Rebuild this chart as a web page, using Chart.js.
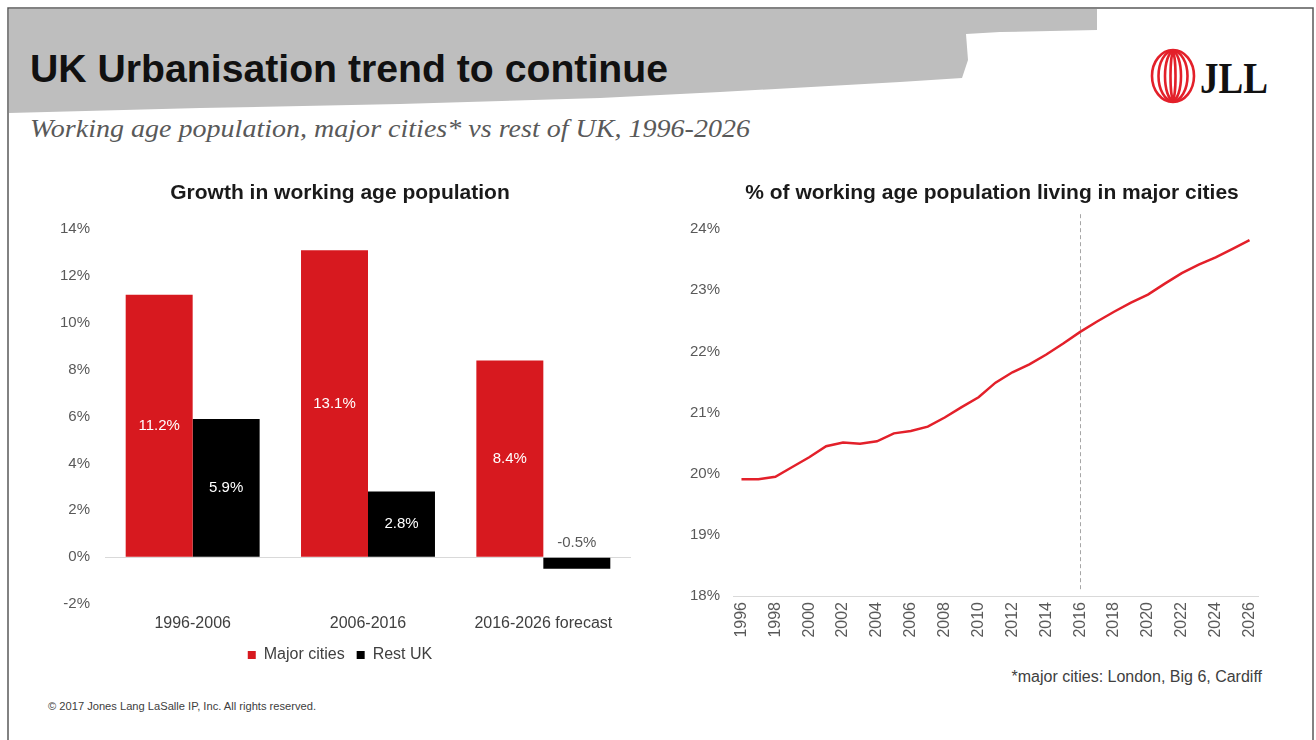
<!DOCTYPE html>
<html>
<head>
<meta charset="utf-8">
<title>UK Urbanisation trend to continue</title>
<script src="https://cdn.jsdelivr.net/npm/chart.js@4.4.1/dist/chart.umd.min.js"></script>
<style>
  html, body { margin: 0; padding: 0; background: #fff; }
  body { width: 1316px; height: 740px; position: relative; overflow: hidden; }
  #deco { position: absolute; left: 0; top: 0; }
  canvas { position: absolute; }
  #growthChart { left: 49px; top: 180px; }
  #shareChart { left: 680px; top: 180px; }
</style>
</head>
<body>
<svg id="deco" width="1316" height="740" xmlns="http://www.w3.org/2000/svg">
  <!-- grey brush band behind the title -->
  <polygon fill="#bebebe" points="9,9 1097,9 1097,30 1000,32 966,34 968,60 962,78 900,82 720,92 600,98 400,104 200,108 9,113"/>
  <!-- slide frame -->
  <path d="M8,740 L8,8 L1313,8 L1313,740" fill="none" stroke="#595959" stroke-width="1.5"/>
  <text x="30" y="82" font-family="Liberation Sans, Arial, sans-serif" font-weight="bold" font-size="38" fill="#111" textLength="638" lengthAdjust="spacingAndGlyphs">UK Urbanisation trend to continue</text>
  <text x="30" y="137" font-family="Liberation Serif, Times New Roman, serif" font-style="italic" font-size="26" fill="#595959" textLength="720" lengthAdjust="spacingAndGlyphs">Working age population, major cities* vs rest of UK, 1996-2026</text>
  <!-- JLL logo -->
  <g fill="none" stroke="#e3202a" stroke-width="2.6">
    <ellipse cx="1173" cy="76" rx="21" ry="26"/>
    <ellipse cx="1173" cy="76" rx="14.5" ry="25"/>
    <ellipse cx="1173" cy="76" rx="8" ry="24"/>
    <ellipse cx="1173" cy="76" rx="2.5" ry="23"/>
  </g>
  <text x="1200" y="93" font-family="Liberation Serif, Times New Roman, serif" font-weight="bold" font-size="44" fill="#111" textLength="68" lengthAdjust="spacingAndGlyphs">JLL</text>
  <text x="1262" y="682" text-anchor="end" font-family="Liberation Sans, Arial, sans-serif" font-size="16" fill="#404040">*major cities: London, Big 6, Cardiff</text>
  <text x="48" y="710" font-family="Liberation Sans, Arial, sans-serif" font-size="10" fill="#404040" textLength="268" lengthAdjust="spacingAndGlyphs">© 2017 Jones Lang LaSalle IP, Inc. All rights reserved.</text>
</svg>

<canvas id="growthChart" width="582" height="493"></canvas>
<canvas id="shareChart" width="624" height="470"></canvas>

<script>
// growth by decade
const periods = ['1996-2006', '2006-2016', '2016-2026 forecast'];
const majorCities = [11.2, 13.1, 8.4];
const restUK = [5.9, 2.8, -0.5];

// share of working age population in major cities
const years = ['1996', '1997', '1998', '1999', '2000', '2001', '2002', '2003', '2004', '2005',
  '2006', '2007', '2008', '2009', '2010', '2011', '2012', '2013', '2014', '2015',
  '2016', '2017', '2018', '2019', '2020', '2021', '2022', '2023', '2024', '2025', '2026'];
const cityShare = [19.91, 19.91, 19.95, 20.11, 20.27, 20.45, 20.51, 20.49, 20.53, 20.66,
  20.70, 20.77, 20.92, 21.09, 21.25, 21.49, 21.66, 21.79, 21.95, 22.13,
  22.32, 22.49, 22.65, 22.80, 22.93, 23.11, 23.28, 23.42, 23.54, 23.68, 23.82];
const forecastStart = '2016';

const RED = '#d7191f';
const TICK = '#595959';

Chart.defaults.font.family = '"Liberation Sans", Arial, sans-serif';
Chart.defaults.animation = false;

// value labels inside the bars (negative one sits above the zero line)
const barLabels = {
  id: 'barLabels',
  afterDatasetsDraw(chart) {
    const ctx = chart.ctx;
    ctx.save();
    ctx.font = '15px "Liberation Sans", Arial, sans-serif';
    ctx.textAlign = 'center';
    ctx.textBaseline = 'middle';
    chart.data.datasets.forEach((ds, di) => {
      chart.getDatasetMeta(di).data.forEach((bar, i) => {
        const v = ds.data[i];
        const txt = v.toFixed(1) + '%';
        if (v >= 0) {
          ctx.fillStyle = '#fff';
          ctx.fillText(txt, bar.x, (bar.y + bar.base) / 2);
        } else {
          ctx.fillStyle = TICK;
          ctx.fillText(txt, bar.x, bar.base - 15);
        }
      });
    });
    ctx.restore();
  }
};

// dashed marker where the forecast starts
const forecastLine = {
  id: 'forecastLine',
  beforeDatasetsDraw(chart) {
    const x = chart.scales.x.getPixelForValue(years.indexOf(forecastStart));
    const area = chart.chartArea;
    const ctx = chart.ctx;
    ctx.save();
    ctx.strokeStyle = '#a6a6a6';
    ctx.lineWidth = 1;
    ctx.setLineDash([4, 3]);
    ctx.beginPath();
    ctx.moveTo(Math.round(x) + 0.5, area.top - 15);
    ctx.lineTo(Math.round(x) + 0.5, area.bottom - 4);
    ctx.stroke();
    ctx.restore();
  }
};

new Chart(document.getElementById('growthChart'), {
  type: 'bar',
  data: {
    labels: periods,
    datasets: [
      { label: 'Major cities', data: majorCities, backgroundColor: RED },
      { label: 'Rest UK', data: restUK, backgroundColor: '#000' }
    ]
  },
  options: {
    responsive: false,
    categoryPercentage: 0.764,
    barPercentage: 1,
    layout: { padding: 0 },
    plugins: {
      title: {
        display: true,
        text: 'Growth in working age population',
        color: '#1a1a1a',
        font: { size: 21, weight: 'bold' },
        padding: { top: 1, bottom: 23 }
      },
      legend: {
        position: 'bottom',
        labels: { boxWidth: 8, boxHeight: 8, color: '#404040', font: { size: 16 }, padding: 12 }
      },
      tooltip: { enabled: false }
    },
    scales: {
      x: {
        grid: { display: false, drawTicks: false },
        border: { display: false },
        ticks: { color: '#404040', font: { size: 16 }, padding: 10 },
        afterFit: s => { s.height = 31; }
      },
      y: {
        min: -2,
        max: 14,
        grid: {
          drawTicks: false,
          color: c => (c.tick && c.tick.value === 0 ? '#d9d9d9' : 'rgba(0,0,0,0)')
        },
        border: { display: false },
        ticks: { stepSize: 2, color: TICK, font: { size: 15 }, padding: 15, callback: v => v + '%' },
        afterFit: s => { s.width = 56; }
      }
    }
  },
  plugins: [barLabels]
});

new Chart(document.getElementById('shareChart'), {
  type: 'line',
  data: {
    labels: years,
    datasets: [{
      label: 'Major cities share',
      data: cityShare,
      borderColor: '#e3202a',
      borderWidth: 2.5,
      pointRadius: 0,
      tension: 0
    }]
  },
  options: {
    responsive: false,
    layout: { padding: { left: 0, right: 0, top: 0, bottom: 4 } },
    plugins: {
      title: {
        display: true,
        text: '% of working age population living in major cities',
        color: '#1a1a1a',
        font: { size: 21, weight: 'bold' },
        padding: { top: 1, bottom: 23 }
      },
      legend: { display: false },
      tooltip: { enabled: false }
    },
    scales: {
      x: {
        offset: true,
        grid: { display: false, drawTicks: false },
        border: { display: true, color: '#d9d9d9' },
        ticks: {
          autoSkip: false,
          minRotation: 90,
          maxRotation: 90,
          color: TICK,
          font: { size: 16 },
          padding: 6,
          callback: (v, i) => (i % 2 === 0 ? years[i] : '')
        },
        afterFit: s => { s.height = 50; }
      },
      y: {
        min: 18,
        max: 24,
        grid: { display: false, drawTicks: false },
        border: { display: false },
        ticks: { stepSize: 1, color: TICK, font: { size: 15 }, padding: 13, callback: v => v + '%' },
        afterFit: s => { s.width = 53; }
      },
      // empty right-hand gutter so the title stays centred over the whole panel
      gutter: {
        position: 'right',
        grid: { display: false, drawTicks: false },
        border: { display: false },
        ticks: { display: false },
        afterFit: s => { s.width = 46; }
      }
    }
  },
  plugins: [forecastLine]
});
</script>
</body>
</html>
